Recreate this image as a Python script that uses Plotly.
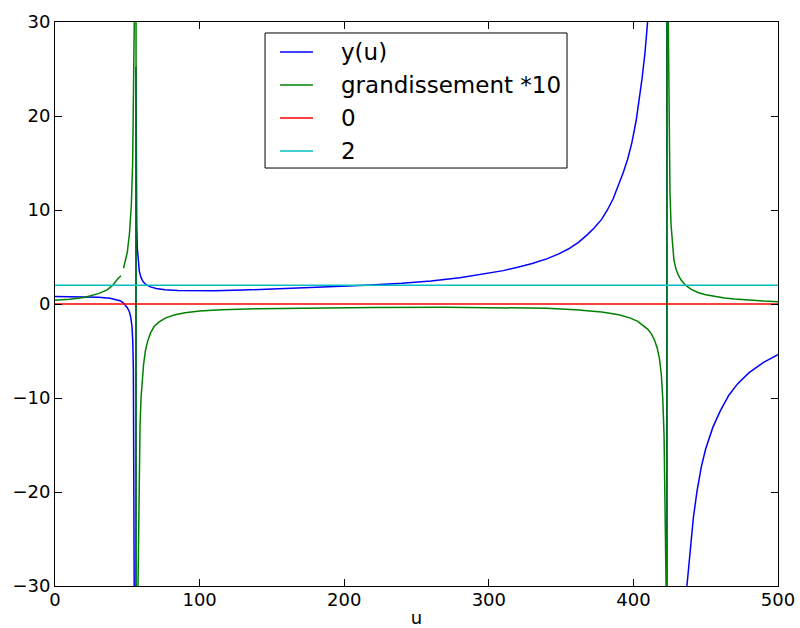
import plotly.graph_objects as go

# ---- data ----
u_blue = [0, 10, 20, 30, 38, 42, 45, 47, 48.5, 50, 51.5, 52.5, 53.3, 53.8, 54.2, 54.6, 55.0,
          55.5, 55.9, 56.0, 56.2, 56.5, 56.9, 57.5, 58.3, 59.5, 61, 63, 66, 70, 76, 85, 95,
          110, 130, 160, 190, 215, 240, 260, 280, 300, 310, 320, 330, 340, 348, 355, 362,
          368, 373, 378, 382, 386, 390, 393, 396, 399, 402, 404.6, 406, 408, 410, 412, 416,
          423.0, 423.3, 426, 430, 434, 437, 439, 441.5, 444, 447, 450, 455, 460, 466, 472,
          480, 490, 500]
v_blue = [0.80, 0.79, 0.76, 0.71, 0.60, 0.50, 0.35, 0.15, -0.10, -0.40, -0.85, -1.5, -2.5,
          -4.0, -7.0, -12, -20, -60, -500, 25.2, 15, 8.5, 6.0, 4.5, 3.5, 2.8, 2.35, 2.05, 1.82,
          1.65, 1.52, 1.43, 1.39, 1.40, 1.48, 1.65, 1.82, 2.0, 2.2, 2.45, 2.8, 3.3, 3.55, 3.9,
          4.3, 4.8, 5.3, 5.85, 6.55, 7.35, 8.1, 9.0, 10.0, 11.2, 12.7, 14.0, 15.4, 17.2, 19.6,
          22.4, 24.0, 26.7, 30.0, 34, 55, 900, -900, -150, -60, -38, -30, -26.5, -22.7,
          -19.9, -17.3, -15.4, -13.1, -11.4, -9.7, -8.5, -7.3, -6.2, -5.4]

u_green = [0, 10, 20, 30, 36, 40, 43, 45.6, None, 47.4, 48.5, 50, 51.5, 52.8, 53.7, 54.3,
           54.8, 55.2, 55.6, 56.0, 56.1, 56.8, 57.4, 57.8, 58.3, 58.8, 59.5, 60.3, 61.2,
           62.5, 64, 66, 68.5, 72, 77, 83, 90, 100, 115, 140, 170, 220, 270, 310, 340, 360,
           378, 390, 398, 403, 407, 410, 412.5, 414.5, 416.5, 418, 419.3, 420.3, 421.2,
           421.9, 422.4, 422.6, 423.1, 423.3, 423.8, 424.1, 424.6, 425.3, 426, 427, 428,
           429.5, 431, 433, 436, 440, 445, 450, 456, 463, 470, 480, 490, 500]
v_green = [0.40, 0.50, 0.70, 1.1, 1.5, 2.0, 2.6, 3.0, None, 3.8, 4.4, 5.5, 7.5, 10.5, 15, 20,
           27, 35, 60, 1000, -1000, -60, -30, -24, -17, -13, -10, -8.0, -6.5, -5.0, -4.0,
           -3.1, -2.4, -1.9, -1.45, -1.15, -0.92, -0.74, -0.60, -0.50, -0.43, -0.38, -0.35,
           -0.38, -0.45, -0.60, -0.85, -1.15, -1.5, -1.85, -2.3, -2.7, -3.2, -3.8, -4.7, -5.8,
           -7.5, -10, -14, -20, -27, -30, -900, 900, 35, 30, 20, 12, 8.5, 6.0, 4.7, 3.7, 3.1,
           2.55, 2.0, 1.55, 1.2, 0.98, 0.80, 0.64, 0.52, 0.40, 0.31, 0.25]

u_const = [0, 500]
v_zero = [0, 0]
v_two = [2, 2]

x_ticks = [0, 100, 200, 300, 400, 500]
y_ticks = [-30, -20, -10, 0, 10, 20, 30]

series_names = ["y(u)", "grandissement *10", "0", "2"]
series_colors = ["#0000ff", "#008000", "#ff0000", "#00bfbf"]

FONT = "DejaVu Sans"

fig = go.Figure()
traces = [(u_blue, v_blue), (u_green, v_green), (u_const, v_zero), (u_const, v_two)]
for (xs, ys), name, color in zip(traces, series_names, series_colors):
    fig.add_trace(go.Scatter(x=xs, y=ys, mode="lines", name=name,
                             line=dict(color=color, width=1.5), connectgaps=False,
                             showlegend=False))

axis_common = dict(showline=True, linecolor="black", linewidth=1, mirror="ticks",
                   ticks="inside", ticklen=7, tickcolor="black", tickwidth=1,
                   showgrid=False, zeroline=False, automargin=False,
                   tickfont=dict(family=FONT, size=18, color="black"))

fig.update_xaxes(range=[0, 500], tickvals=x_ticks, ticktext=[str(t) for t in x_ticks],
                 title=dict(text="u", font=dict(family=FONT, size=18, color="black"), standoff=5),
                 ticklabelstandoff=-3,
                 **axis_common)
fig.update_yaxes(range=[-30, 30], tickvals=y_ticks,
                 ticktext=[str(t).replace("-", "\u2212") for t in y_ticks],
                 **axis_common)

# ---- legend box drawn in paper coordinates (matplotlib style) ----
L_X0, L_X1, L_Y0, L_Y1 = 0.2905, 0.7082, 0.7411, 0.9805
S_X0, S_X1, T_X = 0.3112, 0.3568, 0.3928
row_y = [0.9468, 0.8883, 0.8298, 0.7713]

shapes = [dict(type="rect", xref="paper", yref="paper", x0=L_X0, x1=L_X1, y0=L_Y0, y1=L_Y1,
               line=dict(color="black", width=1), fillcolor="white", layer="above")]
annotations = []
for name, color, yy in zip(series_names, series_colors, row_y):
    shapes.append(dict(type="line", xref="paper", yref="paper", x0=S_X0, x1=S_X1, y0=yy, y1=yy,
                       line=dict(color=color, width=1.5), layer="above"))
    annotations.append(dict(xref="paper", yref="paper", x=T_X, y=yy, text=name,
                            showarrow=False, xanchor="left", yanchor="middle",
                            font=dict(family=FONT, size=23, color="black")))

fig.update_layout(
    width=800, height=628,
    margin=dict(l=55, r=22, t=22, b=42),
    paper_bgcolor="white", plot_bgcolor="white",
    font=dict(family=FONT, size=18, color="black"),
    showlegend=False,
    shapes=shapes,
    annotations=annotations,
)

fig.write_html("out.html",
               config={"displayModeBar": False},
               post_script="document.body.style.margin='0';document.body.style.overflow='hidden';")
